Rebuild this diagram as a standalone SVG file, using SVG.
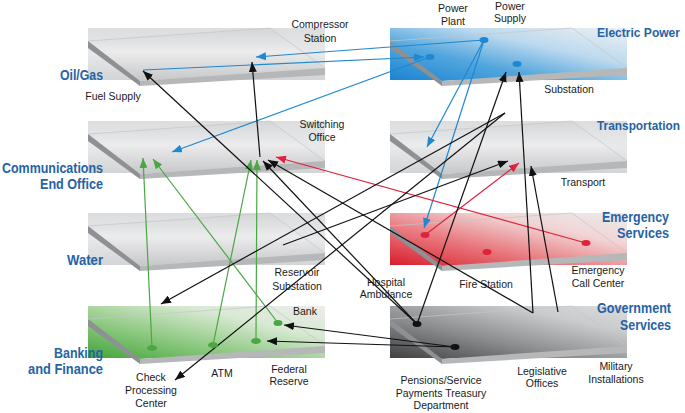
<svg xmlns="http://www.w3.org/2000/svg" xmlns:xlink="http://www.w3.org/1999/xlink" width="685" height="413" viewBox="0 0 685 413">
<style>
.lbl{font-family:"Liberation Sans",Arial,sans-serif;font-size:14px;font-weight:bold;fill:#2563a6}
.lbl2{font-family:"Liberation Sans",Arial,sans-serif;font-size:12.3px;font-weight:bold;fill:#2563a6}
.sm{font-family:"Liberation Sans",Arial,sans-serif;font-size:10.5px;fill:#1a1a1a;text-anchor:middle}
.lf{fill:#8e9093}
.ff{fill:#b5b7b9}
.edge{fill:none;stroke:#c4c5c7;stroke-width:0.7}
.cn line{stroke-width:1.2;fill:none}
.k{stroke:#111}
.b{stroke:#1f88cf}
.r{stroke:#e0223c}
.g{stroke:#4aa744}
</style>
<defs>
<linearGradient id="gGrayBack" x1="0" y1="0" x2="0" y2="1">
<stop offset="0" stop-color="#dcdddf"/><stop offset="0.5" stop-color="#e8e9ea"/><stop offset="1" stop-color="#d3d4d6"/>
</linearGradient>
<linearGradient id="gGrayTop" x1="0" y1="0" x2="0" y2="1">
<stop offset="0" stop-color="#d4d5d7"/><stop offset="0.45" stop-color="#ececed"/><stop offset="1" stop-color="#c6c7c9"/>
</linearGradient>
<linearGradient id="gBlue" x1="0" y1="1" x2="1" y2="0">
<stop offset="0" stop-color="#1c84d1"/><stop offset="0.35" stop-color="#52a6de"/><stop offset="0.65" stop-color="#bcd9ee"/><stop offset="1" stop-color="#eef1f3"/>
</linearGradient>
<linearGradient id="gRed" x1="0" y1="1" x2="1" y2="0">
<stop offset="0" stop-color="#d81e2c"/><stop offset="0.35" stop-color="#e8747a"/><stop offset="0.7" stop-color="#f1d4d4"/><stop offset="1" stop-color="#ececec"/>
</linearGradient>
<linearGradient id="gGreen" x1="0" y1="1" x2="1" y2="0">
<stop offset="0" stop-color="#43a43a"/><stop offset="0.35" stop-color="#8cc880"/><stop offset="0.7" stop-color="#d8e9d2"/><stop offset="1" stop-color="#ececec"/>
</linearGradient>
<linearGradient id="gDark" x1="0" y1="1" x2="1" y2="0">
<stop offset="0" stop-color="#3f4042"/><stop offset="0.4" stop-color="#8d8e90"/><stop offset="0.75" stop-color="#cacbcd"/><stop offset="1" stop-color="#dcdcdd"/>
</linearGradient>
<rect id="back" width="237" height="52"/>
<path id="top" d="M0,13 L182,0 L237,40 L52,53 Z"/>
<path id="lface" d="M0,13 L52,53 L52,58 L0,20 Z"/>
<path id="fface" d="M52,53 L237,40 L237,47 L52,58 Z"/>
<path id="edge" d="M0,13 L182,0 L237,40"/>
<marker id="ak" viewBox="0 0 10 8" refX="10" refY="4" markerWidth="10" markerHeight="8" markerUnits="userSpaceOnUse" orient="auto"><path d="M0,0 L10,4 L0,8 Z" fill="#111"/></marker>
<marker id="ab" viewBox="0 0 10 8" refX="10" refY="4" markerWidth="10" markerHeight="8" markerUnits="userSpaceOnUse" orient="auto"><path d="M0,0 L10,4 L0,8 Z" fill="#1f88cf"/></marker>
<marker id="ar" viewBox="0 0 10 8" refX="10" refY="4" markerWidth="10" markerHeight="8" markerUnits="userSpaceOnUse" orient="auto"><path d="M0,0 L10,4 L0,8 Z" fill="#e0223c"/></marker>
<marker id="ag" viewBox="0 0 10 8" refX="10" refY="4" markerWidth="10" markerHeight="8" markerUnits="userSpaceOnUse" orient="auto"><path d="M0,0 L10,4 L0,8 Z" fill="#4aa744"/></marker>
</defs>
<rect width="685" height="413" fill="#ffffff"/>

<g id="oil-gas">
<g transform="translate(88,28)"><use xlink:href="#back" fill="url(#gGrayBack)"/><use xlink:href="#top" fill="url(#gGrayTop)"/><use xlink:href="#lface" class="lf"/><use xlink:href="#fface" class="ff"/><use xlink:href="#edge" class="edge"/></g>
<text class="lbl" x="103" y="80" text-anchor="end" textLength="43" lengthAdjust="spacingAndGlyphs">Oil/Gas</text>
</g>
<g id="communications">
<g transform="translate(88,121)"><use xlink:href="#back" fill="url(#gGrayBack)"/><use xlink:href="#top" fill="url(#gGrayTop)"/><use xlink:href="#lface" class="lf"/><use xlink:href="#fface" class="ff"/><use xlink:href="#edge" class="edge"/></g>
<text class="lbl" x="103" y="173" text-anchor="end" textLength="101" lengthAdjust="spacingAndGlyphs">Communications</text>
<text class="lbl" x="103" y="189" text-anchor="end" textLength="63" lengthAdjust="spacingAndGlyphs">End Office</text>
</g>
<g id="water">
<g transform="translate(88,213)"><use xlink:href="#back" fill="url(#gGrayBack)"/><use xlink:href="#top" fill="url(#gGrayTop)"/><use xlink:href="#lface" class="lf"/><use xlink:href="#fface" class="ff"/><use xlink:href="#edge" class="edge"/></g>
<text class="lbl" x="103" y="265" text-anchor="end" textLength="36" lengthAdjust="spacingAndGlyphs">Water</text>
</g>
<g id="banking">
<g transform="translate(88,306)"><use xlink:href="#back" fill="url(#gGreen)"/><use xlink:href="#top" fill="url(#gGreen)"/><use xlink:href="#lface" class="lf"/><use xlink:href="#fface" class="ff"/><use xlink:href="#edge" class="edge"/></g>
<text class="lbl" x="103" y="358" text-anchor="end" textLength="49" lengthAdjust="spacingAndGlyphs">Banking</text>
<text class="lbl" x="103" y="374" text-anchor="end" textLength="75" lengthAdjust="spacingAndGlyphs">and Finance</text>
</g>
<g id="electric-power">
<g transform="translate(390,28)"><use xlink:href="#back" fill="url(#gBlue)"/><use xlink:href="#top" fill="url(#gBlue)"/><use xlink:href="#lface" class="lf"/><use xlink:href="#fface" class="ff"/><use xlink:href="#edge" class="edge"/></g>
<text class="lbl2" x="597" y="37" textLength="83" lengthAdjust="spacingAndGlyphs">Electric Power</text>
</g>
<g id="transportation">
<g transform="translate(390,121)"><use xlink:href="#back" fill="url(#gGrayBack)"/><use xlink:href="#top" fill="url(#gGrayTop)"/><use xlink:href="#lface" class="lf"/><use xlink:href="#fface" class="ff"/><use xlink:href="#edge" class="edge"/></g>
<text class="lbl2" x="597" y="130" textLength="83" lengthAdjust="spacingAndGlyphs">Transportation</text>
</g>
<g id="emergency-services">
<g transform="translate(390,213)"><use xlink:href="#back" fill="url(#gRed)"/><use xlink:href="#top" fill="url(#gRed)"/><use xlink:href="#lface" class="lf"/><use xlink:href="#fface" class="ff"/><use xlink:href="#edge" class="edge"/></g>
<text class="lbl" x="669" y="222" text-anchor="end" textLength="67" lengthAdjust="spacingAndGlyphs">Emergency</text>
<text class="lbl" x="669" y="238" text-anchor="end" textLength="52" lengthAdjust="spacingAndGlyphs">Services</text>
</g>
<g id="government-services">
<g transform="translate(390,306)"><use xlink:href="#back" fill="url(#gDark)"/><use xlink:href="#top" fill="url(#gDark)"/><use xlink:href="#lface" class="lf"/><use xlink:href="#fface" class="ff"/><use xlink:href="#edge" class="edge"/></g>
<text class="lbl" x="671" y="313" text-anchor="end" textLength="74" lengthAdjust="spacingAndGlyphs">Government</text>
<text class="lbl" x="671" y="330" text-anchor="end" textLength="51" lengthAdjust="spacingAndGlyphs">Services</text>
</g>

<g id="connectors" class="cn">
<line class="b" x1="484" y1="40" x2="256" y2="57" marker-end="url(#ab)"/>
<line class="b" x1="143" y1="70" x2="424" y2="57" marker-end="url(#ab)"/>
<line class="b" x1="430" y1="57" x2="172" y2="152" marker-end="url(#ab)"/>
<line class="b" x1="484" y1="40" x2="427" y2="147" marker-end="url(#ab)"/>
<line class="b" x1="484" y1="40" x2="424" y2="228" marker-end="url(#ab)"/>
<line class="r" x1="586" y1="243" x2="276" y2="157" marker-end="url(#ar)"/>
<line class="r" x1="425" y1="235" x2="519" y2="163" marker-end="url(#ar)"/>
<line class="g" x1="152" y1="348" x2="143" y2="158" marker-end="url(#ag)"/>
<line class="g" x1="278" y1="323" x2="153" y2="159" marker-end="url(#ag)"/>
<line class="g" x1="213" y1="345" x2="251" y2="160" marker-end="url(#ag)"/>
<line class="g" x1="256" y1="341" x2="257" y2="160" marker-end="url(#ag)"/>
<line class="k" x1="417" y1="324" x2="143" y2="71" marker-end="url(#ak)"/>
<line class="k" x1="260" y1="157" x2="252" y2="62" marker-end="url(#ak)"/>
<line class="k" x1="417" y1="324" x2="263" y2="161" marker-end="url(#ak)"/>
<line class="k" x1="533" y1="313" x2="268" y2="160" marker-end="url(#ak)"/>
<line class="k" x1="417" y1="324" x2="506" y2="72" marker-end="url(#ak)"/>
<line class="k" x1="533" y1="313" x2="519" y2="72" marker-end="url(#ak)"/>
<line class="k" x1="283" y1="245" x2="508" y2="161" marker-end="url(#ak)"/>
<line class="k" x1="558" y1="312" x2="531" y2="166" marker-end="url(#ak)"/>
<line class="k" x1="505" y1="113" x2="161" y2="304" marker-end="url(#ak)"/>
<line class="k" x1="505" y1="113" x2="175" y2="380" marker-end="url(#ak)"/>
<line class="k" x1="455" y1="347" x2="284" y2="325" marker-end="url(#ak)"/>
<line class="k" x1="455" y1="347" x2="267" y2="341" marker-end="url(#ak)"/>
</g>

<g id="compressor-station"><text class="sm" x="320" y="28">Compressor</text><text class="sm" x="320" y="42">Station</text></g>
<g id="fuel-supply"><text class="sm" x="113" y="100">Fuel Supply</text></g>
<g id="power-plant"><ellipse cx="484" cy="40" rx="4.5" ry="3" fill="#1f88cf"/><text class="sm" x="453" y="12">Power</text><text class="sm" x="453" y="25">Plant</text></g>
<g id="power-supply"><ellipse cx="430" cy="57" rx="4.5" ry="3" fill="#1f88cf"/><text class="sm" x="510" y="9.5">Power</text><text class="sm" x="510" y="22">Supply</text></g>
<g id="substation"><ellipse cx="517" cy="64" rx="4.5" ry="3" fill="#1f88cf"/><text class="sm" x="569" y="93">Substation</text></g>
<g id="switching-office"><text class="sm" x="322" y="128">Switching</text><text class="sm" x="322" y="141">Office</text></g>
<g id="transport"><text class="sm" x="583" y="186">Transport</text></g>
<g id="reservoir-substation"><text class="sm" x="297" y="276">Reservoir</text><text class="sm" x="297" y="290">Substation</text></g>
<g id="dispatch"><ellipse cx="425" cy="235" rx="4.5" ry="3" fill="#e0223c"/></g>
<g id="fire-station"><ellipse cx="487" cy="252" rx="4.5" ry="3" fill="#e0223c"/><text class="sm" x="486" y="288">Fire Station</text></g>
<g id="emergency-call-center"><ellipse cx="586" cy="243" rx="4.5" ry="3" fill="#e0223c"/><text class="sm" x="598" y="274">Emergency</text><text class="sm" x="598" y="287">Call Center</text></g>
<g id="hospital-ambulance"><ellipse cx="417" cy="324" rx="4.5" ry="3" fill="#111"/><text class="sm" x="386" y="286">Hospital</text><text class="sm" x="386" y="298">Ambulance</text></g>
<g id="pensions"><ellipse cx="455" cy="347" rx="4.5" ry="3" fill="#111"/><text class="sm" x="441" y="384">Pensions/Service</text><text class="sm" x="441" y="397">Payments Treasury</text><text class="sm" x="441" y="409">Department</text></g>
<g id="legislative-offices"><text class="sm" x="542" y="375">Legislative</text><text class="sm" x="542" y="387">Offices</text></g>
<g id="military-installations"><text class="sm" x="616" y="370">Military</text><text class="sm" x="616" y="383">Installations</text></g>
<g id="bank"><ellipse cx="278" cy="323" rx="4.5" ry="3" fill="#4aa744"/><text class="sm" x="305" y="315">Bank</text></g>
<g id="check-processing"><ellipse cx="152" cy="348" rx="5" ry="3" fill="#4aa744"/><text class="sm" x="151" y="381">Check</text><text class="sm" x="151" y="394">Processing</text><text class="sm" x="151" y="407">Center</text></g>
<g id="atm"><ellipse cx="213" cy="345" rx="5" ry="3" fill="#4aa744"/><text class="sm" x="222" y="377">ATM</text></g>
<g id="federal-reserve"><ellipse cx="256" cy="341" rx="5" ry="3" fill="#4aa744"/><text class="sm" x="289" y="373">Federal</text><text class="sm" x="289" y="385">Reserve</text></g>
</svg>
